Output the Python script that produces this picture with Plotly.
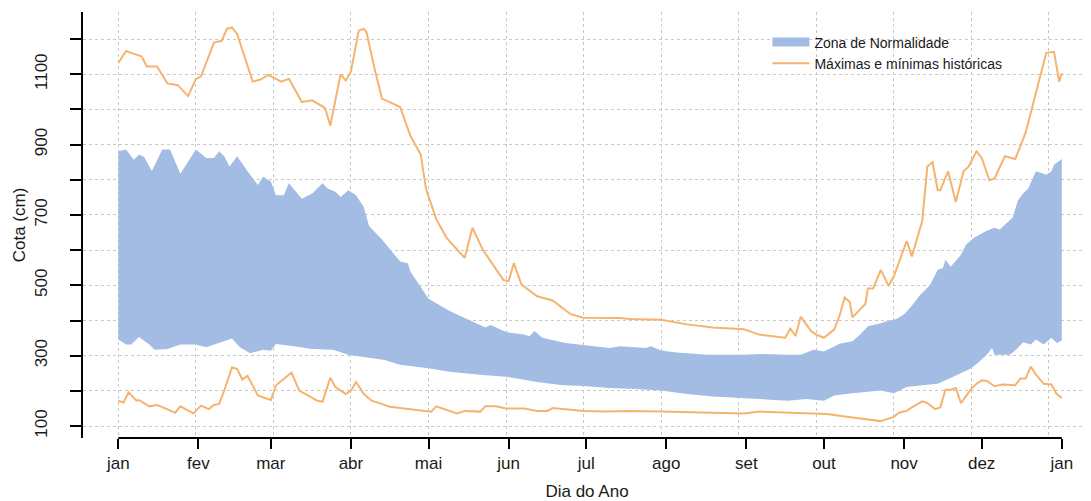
import plotly.graph_objects as go

# ---- axis labels ----
MONTH_DAYS = [1, 32, 60, 91, 121, 152, 182, 213, 244, 274, 305, 335, 366]
MONTH_LABELS = ["jan", "fev", "mar", "abr", "mai", "jun", "jul", "ago", "set", "out", "nov", "dez", "jan"]
Y_TICKS = [100, 200, 300, 400, 500, 600, 700, 800, 900, 1000, 1100, 1200]
Y_LABELS = ["100", "", "300", "", "500", "", "700", "", "900", "", "1100", ""]

# ---- historical maximum ----
MAX_DAY = [1, 4, 7, 10, 12, 16, 18, 20, 24, 28, 31, 33, 38, 41, 43, 45, 47, 53, 56, 59,
           64, 67, 72, 76, 81, 83, 87, 89, 91, 94, 96, 97, 100, 103, 106, 110, 114, 118, 120, 124,
           128, 135, 138, 142, 150, 152, 154, 157, 163, 169, 176, 181, 195, 199, 211, 221, 231, 243, 249, 259,
           261, 263, 265, 269, 271, 274, 278, 280, 282, 284, 285, 288, 290, 291, 293, 296, 299, 301, 304, 306,
           308, 312, 314, 316, 318, 319, 322, 325, 328, 330, 333, 335, 338, 340, 344, 348, 352, 355, 358, 360,
           363, 365, 366]
MAX_VAL = [1132, 1166, 1158, 1151, 1122, 1122, 1098, 1074, 1069, 1038, 1086, 1094, 1190, 1195, 1229, 1233, 1214, 1079, 1085, 1098,
           1079, 1087, 1021, 1026, 1004, 954, 1100, 1082, 1108, 1224, 1229, 1220, 1120, 1031, 1021, 1007, 925, 872, 775, 688,
           635, 578, 664, 601, 515, 512, 563, 502, 469, 457, 418, 408, 407, 404, 402, 389, 380, 375, 360, 351,
           377, 356, 411, 370, 360, 351, 375, 413, 466, 452, 409, 433, 447, 491, 491, 544, 498, 525, 587, 626,
           582, 683, 838, 850, 770, 770, 824, 737, 824, 838, 881, 862, 799, 804, 867, 859, 934, 1021, 1103, 1161,
           1164, 1079, 1103]

# ---- historical minimum ----
MIN_DAY = [1, 3, 5, 8, 9, 13, 16, 23, 25, 30, 33, 36, 38, 40, 42, 45, 47, 49, 51, 55,
           58, 60, 62, 65, 68, 71, 74, 78, 80, 83, 85, 89, 91, 93, 96, 99, 102, 106, 114, 122,
           124, 132, 135, 141, 143, 147, 151, 158, 163, 167, 169, 181, 189, 199, 211, 227, 243, 249, 265, 275,
           285, 292, 296, 298, 301, 303, 306, 308, 312, 314, 317, 319, 321, 323, 325, 327, 329, 331, 333, 335,
           337, 340, 343, 348, 350, 352, 354, 356, 359, 362, 364, 366]
MIN_VAL = [172, 167, 196, 172, 174, 156, 160, 138, 156, 136, 158, 148, 160, 163, 201, 267, 262, 232, 243, 187,
           179, 174, 216, 235, 252, 201, 189, 172, 169, 237, 211, 191, 201, 225, 191, 172, 165, 155, 148, 141,
           156, 136, 143, 141, 156, 156, 150, 150, 143, 143, 151, 143, 141, 143, 141, 138, 136, 141, 136, 134,
           124, 119, 114, 119, 126, 138, 143, 153, 170, 165, 148, 153, 203, 203, 208, 165, 184, 206, 220, 230,
           228, 213, 218, 216, 235, 235, 269, 246, 220, 218, 191, 180]

# ---- normal zone, upper edge ----
UP_DAY = [1, 4, 7, 9, 11, 14, 18, 21, 25, 31, 35, 38, 40, 42, 44, 47, 51, 55, 57, 60,
          62, 65, 67, 72, 76, 80, 82, 85, 87, 90, 93, 96, 98, 103, 110, 113, 114, 121, 129, 136,
          143, 145, 151, 158, 160, 162, 165, 174, 183, 191, 195, 205, 207, 211, 217, 229, 243, 250, 260, 265,
          270, 274, 280, 285, 288, 291, 296, 298, 302, 305, 308, 311, 315, 318, 320, 321, 323, 327, 329, 332,
          337, 340, 342, 345, 347, 349, 351, 353, 356, 360, 362, 363, 366]
UP_VAL = [881, 886, 857, 872, 865, 825, 886, 886, 817, 886, 862, 862, 881, 867, 838, 867, 824, 785, 809, 795,
          756, 756, 790, 746, 761, 790, 775, 766, 751, 770, 756, 722, 669, 630, 568, 563, 539, 462, 428, 404,
          380, 387, 367, 360, 355, 370, 351, 336, 329, 322, 327, 322, 327, 315, 309, 303, 303, 305, 303, 303,
          317, 312, 334, 341, 360, 384, 392, 397, 404, 418, 442, 471, 500, 544, 549, 573, 553, 587, 616, 635,
          655, 664, 659, 679, 693, 741, 761, 775, 824, 814, 824, 843, 859]

# ---- normal zone, lower edge ----
LO_DAY = [1, 4, 6, 9, 13, 15, 20, 25, 28, 31, 35, 40, 45, 48, 52, 57, 60, 62, 69, 76,
          84, 90, 96, 104, 110, 121, 129, 142, 151, 163, 173, 181, 191, 199, 211, 221, 231, 247, 260, 267,
          274, 278, 285, 296, 301, 306, 312, 318, 324, 331, 334, 337, 339, 340, 346, 349, 351, 354, 356, 359,
          362, 364, 366]
LO_VAL = [346, 332, 332, 353, 332, 317, 319, 332, 333, 332, 324, 336, 349, 324, 307, 317, 314, 333, 327, 319,
          317, 303, 296, 288, 274, 264, 254, 245, 240, 225, 216, 214, 208, 206, 201, 191, 184, 177, 172, 177,
          172, 187, 193, 201, 193, 211, 216, 220, 240, 264, 283, 303, 322, 303, 303, 322, 338, 332, 346, 332,
          351, 336, 343]

BLUE = "#A3BCE3"
ORANGE = "#F6B36F"
FONT = "Liberation Sans, Arial, Helvetica, sans-serif"
X_RANGE = [-12.66, 377.3]

fig = go.Figure()

# normal zone band (closed polygon: upper edge forward, lower edge back)
fig.add_trace(go.Scatter(
    x=UP_DAY + LO_DAY[::-1], y=UP_VAL + LO_VAL[::-1],
    fill="toself", fillcolor=BLUE, mode="lines", line=dict(width=0, color=BLUE),
    showlegend=False, hoverinfo="skip"))

# legend entry for the zone (thick bar)
fig.add_trace(go.Scatter(
    x=[None], y=[None], mode="lines", name="Zona de Normalidade",
    line=dict(color=BLUE, width=9), xaxis="x2"))

fig.add_trace(go.Scatter(
    x=MAX_DAY, y=MAX_VAL, mode="lines", name="Máximas e mínimas históricas",
    line=dict(color=ORANGE, width=2)))
fig.add_trace(go.Scatter(
    x=MIN_DAY, y=MIN_VAL, mode="lines", showlegend=False,
    line=dict(color=ORANGE, width=2)))

grid = dict(showgrid=True, gridcolor="#C8C8C8", griddash="dot", gridwidth=1)

# the page body adds an 8px offset, so the figure is 8px smaller than the window
fig.update_layout(
    width=1083, height=493,
    margin=dict(l=75, r=0, t=4, b=63, autoexpand=False),
    paper_bgcolor="white", plot_bgcolor="white",
    font=dict(family=FONT, size=17, color="#1a1a1a"),
    xaxis=dict(range=X_RANGE, tickmode="linear", tick0=1, dtick=30, automargin=False,
               showticklabels=False, ticks="", zeroline=False, showline=False, **grid),
    xaxis2=dict(range=X_RANGE, overlaying="x", side="bottom", anchor="y", automargin=False,
                tickmode="array", tickvals=MONTH_DAYS, ticktext=MONTH_LABELS,
                ticks="outside", ticklen=10, tickwidth=2, tickcolor="black",
                showgrid=False, zeroline=False, showline=False,
                ticklabelstandoff=0, tickfont=dict(size=17),
                title=dict(text="Dia do Ano", font=dict(size=17), standoff=21)),
    yaxis=dict(range=[66, 1277], tickmode="array", tickvals=Y_TICKS, ticktext=Y_LABELS,
               ticks="outside", ticklen=11, tickwidth=2, tickcolor="black", automargin=False,
               showline=True, linecolor="black", linewidth=2, zeroline=False,
               tickangle=-90, ticklabelstandoff=16, tickfont=dict(size=17), **grid,
               title=dict(text="Cota (cm)", font=dict(size=17), standoff=2)),
    legend=dict(x=0.679, y=0.966, xanchor="left", yanchor="top",
                bgcolor="rgba(0,0,0,0)", borderwidth=0,
                font=dict(size=14, color="#1a1a1a"), itemwidth=37),
    showlegend=True,
)

# x-axis line from first to last month tick (R axis style)
fig.add_shape(type="line", xref="x", yref="paper",
              x0=MONTH_DAYS[0], x1=MONTH_DAYS[-1], y0=0, y1=0,
              line=dict(color="black", width=2), layer="above")

fig.write_html("out.html")
